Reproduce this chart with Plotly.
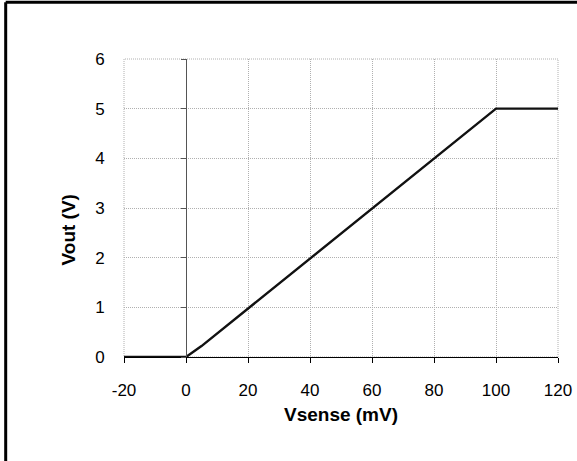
import plotly.graph_objects as go

# Data
vsense_mv = [-20, 0, 5, 100, 120]
vout_v = [0, 0, 0.22, 5, 5]

x_ticks = [-20, 0, 20, 40, 60, 80, 100, 120]
x_tick_labels = ["-20", "0", "20", "40", "60", "80", "100", "120"]
y_ticks = [0, 1, 2, 3, 4, 5, 6]
y_tick_labels = ["0", "1", "2", "3", "4", "5", "6"]
x_title = "Vsense (mV)"
y_title = "Vout (V)"

FONT = "Liberation Sans, Arial, sans-serif"
GRID = "#b0b0b0"
GRID_DASH = "1px,1px"

fig = go.Figure()
fig.add_trace(go.Scatter(
    x=vsense_mv, y=vout_v, mode="lines",
    line=dict(color="#111111", width=2.4),
    showlegend=False, hoverinfo="skip",
))
# transparent copy to host the y-axis drawn at x = 0
fig.add_trace(go.Scatter(
    x=vsense_mv, y=vout_v, mode="lines", yaxis="y2",
    line=dict(color="rgba(0,0,0,0)", width=0),
    showlegend=False, hoverinfo="skip",
))

x_min, x_max = x_ticks[0], x_ticks[-1]
y_axis_pos = (0 - x_min) / (x_max - x_min)

fig.update_layout(
    width=577, height=461, autosize=False,
    margin=dict(l=124, r=19, t=59, b=104, pad=0, autoexpand=False),
    paper_bgcolor="white", plot_bgcolor="white",
    font=dict(family=FONT, size=17, color="black"),
    xaxis=dict(
        range=[x_min, x_max], tickvals=x_ticks, ticktext=x_tick_labels,
        automargin=False,
        showgrid=True, gridcolor=GRID, griddash=GRID_DASH, gridwidth=1,
        zeroline=False, showline=True, linecolor="black", linewidth=1,
        ticks="outside", ticklen=5, tickcolor="black", tickwidth=1,
        ticklabelstandoff=13,
        tickfont=dict(size=17),
        title=dict(text="<b>" + x_title + "</b>", font=dict(size=19), standoff=8),
    ),
    yaxis=dict(
        range=[y_ticks[0], y_ticks[-1]], tickvals=y_ticks, ticktext=y_tick_labels,
        automargin=False,
        showgrid=True, gridcolor=GRID, griddash=GRID_DASH, gridwidth=1,
        zeroline=False, showline=False,
        ticks="outside", ticklen=15, tickcolor="rgba(0,0,0,0)",
        tickfont=dict(size=17),
    ),
    yaxis2=dict(
        range=[y_ticks[0], y_ticks[-1]], tickvals=y_ticks,
        overlaying="y", anchor="free", position=y_axis_pos, side="left",
        automargin=False,
        showgrid=False, zeroline=False, showticklabels=False,
        showline=True, linecolor="#555555", linewidth=1,
        ticks="outside", ticklen=5, tickcolor="#555555", tickwidth=1,
    ),
    annotations=[dict(
        text="<b>" + y_title + "</b>", textangle=-90,
        xref="paper", yref="paper", x=-0.127, y=0.4276,
        xanchor="center", yanchor="middle", showarrow=False,
        font=dict(size=19),
    )],
    shapes=[
        # dotted border gridlines at the plot edges
        dict(type="rect", xref="paper", yref="paper", x0=0, x1=1, y0=0, y1=1,
             line=dict(color=GRID, width=1, dash=GRID_DASH), layer="below"),
        # outer frame (top and left edges)
        dict(type="line", xref="paper", yref="paper",
             x0=-0.2726, x1=1.05, y0=1.1905, y1=1.1905,
             line=dict(color="black", width=3)),
        dict(type="line", xref="paper", yref="paper",
             x0=-0.2726, x1=-0.2726, y0=-0.35, y1=1.1905,
             line=dict(color="black", width=3)),
    ],
)

fig.write_html("out.html", config={"displayModeBar": False},
               post_script="document.body.style.margin='0';")
